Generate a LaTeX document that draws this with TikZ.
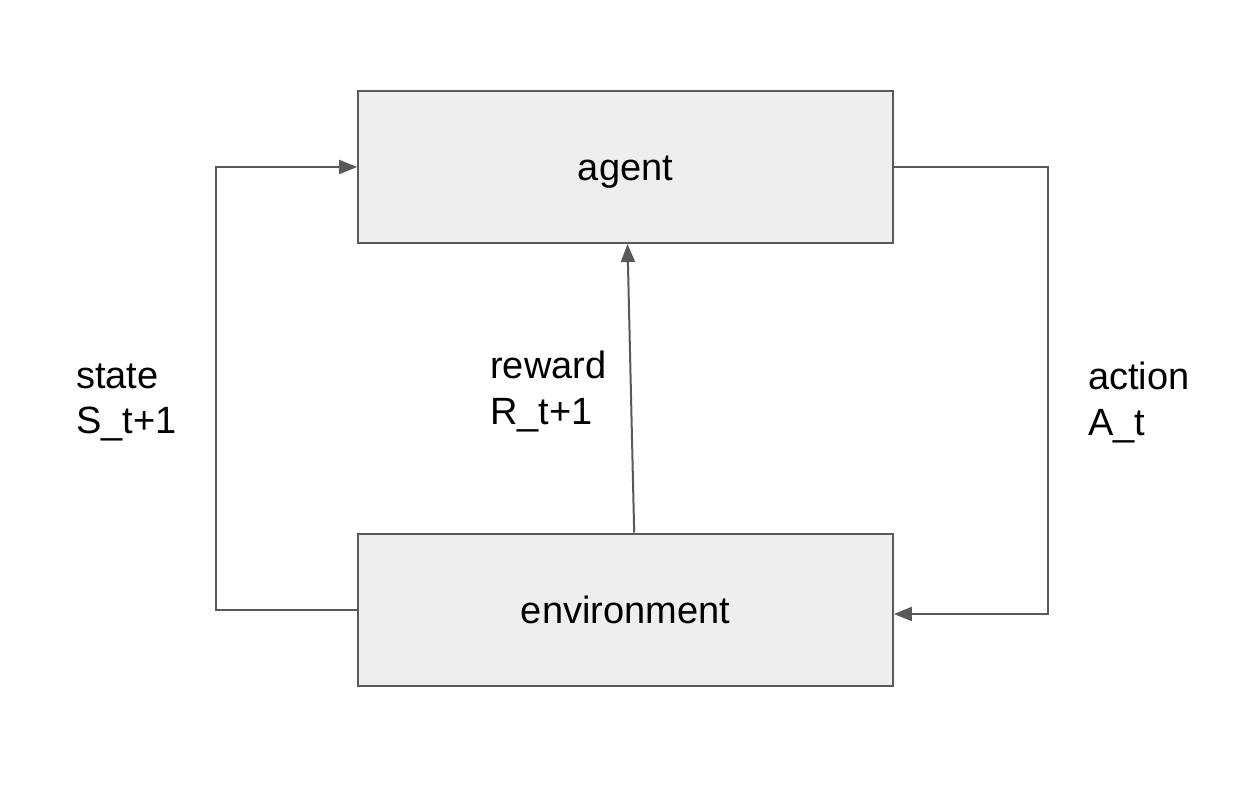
\documentclass[tikz,border=0pt]{standalone}
\usepackage{fontspec}
\setmainfont{Liberation Sans}
\usetikzlibrary{arrows.meta}
\definecolor{linegray}{HTML}{595959}
\definecolor{boxfill}{HTML}{EEEEEE}
\begin{document}
\begin{tikzpicture}[x=0.75pt,y=-0.75pt,
  box/.style={draw=linegray,fill=boxfill,line width=1.5pt,minimum width=401pt,minimum height=114pt,inner sep=0pt,text height=20.4pt,text depth=0pt,font=\fontsize{28.5}{33.75}\selectfont},
  conn/.style={draw=linegray,line width=1.5pt},
  arr/.style={conn,-{Triangle[length=13.5pt,width=10.5pt]}},
  lbl/.style={anchor=west,inner sep=0pt,align=left,font=\fontsize{28.5}{34.2}\selectfont}]
\useasboundingbox (0,0) rectangle (1256,792);
\node[box] (agent) at (625.5,167) {agent};
\node[box] (env) at (625.5,609.5) {environment};
\coordinate (lc) at (216,609.5);
\coordinate (rc) at (1048,614);
\draw[arr] (env.west) -- (lc) |- (agent.west);
\draw[arr] (agent.east) -| (rc) -- (env.east |- rc);
\draw[arr] ([xshift=6.5]env.north) -- ([xshift=1.5]agent.south);
\node[lbl] (state) at (76,402.5) {state\\S\_t+1};
\node[lbl] (reward) at (490,391.5) {reward\\R\_t+1};
\node[lbl] (action) at (1088,402.5) {action\\A\_t};
\end{tikzpicture}
\end{document}
